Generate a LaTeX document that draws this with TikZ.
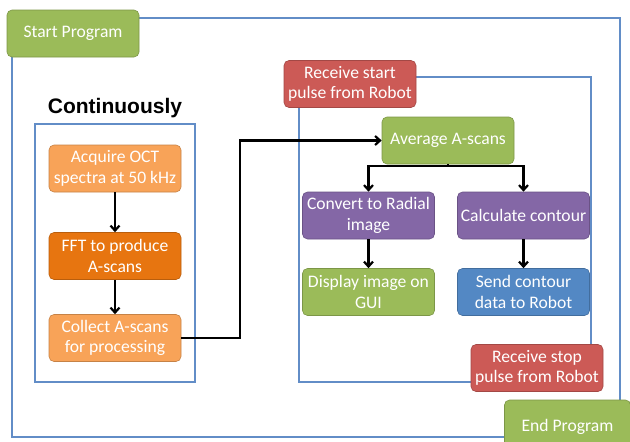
\documentclass[tikz,border=0pt]{standalone}
\usepackage{fontspec}
\setmainfont{Carlito}
\newfontfamily\headfont{Liberation Sans}
\usetikzlibrary{arrows.meta}

\definecolor{progreen}{RGB}{155,187,89}
\definecolor{pulsered}{RGB}{204,90,86}
\definecolor{lightorange}{RGB}{248,163,88}
\definecolor{darkorange}{RGB}{231,117,16}
\definecolor{stepviolet}{RGB}{132,103,166}
\definecolor{sendblue}{RGB}{83,136,196}
\definecolor{frameblue}{RGB}{98,141,199}

\begin{document}
\begin{tikzpicture}[x=1pt,y=-1pt,>={Straight Barb[length=5pt,width=9pt]},
  stagebox/.style={draw=#1!80!black, fill=#1, rounded corners=5pt, text=white,
    align=center, minimum width=132pt, minimum height=47pt, inner sep=1pt,
    line width=0.6pt, font=\fontsize{17.6}{20.5}\selectfont},
  framebox/.style={draw=frameblue, line width=1.3pt},
  flow/.style={->, line width=2.2pt}]
  \useasboundingbox (0,0) rectangle (630,442);

  % Frames
  \draw[framebox] (12,18) rectangle (620,437);
  \draw[framebox] (35,124) rectangle (195,382);
  \draw[framebox] (299,77) rectangle (591,382);

  % Nodes
  \node[stagebox=progreen] (start) at (73,33.5) {Start Program};
  \node[font=\headfont\bfseries\fontsize{21}{24}\selectfont] (cont) at (115,108) {Continuously};
  \node[stagebox=lightorange] (acquire) at (115,168.5) {Acquire OCT\\spectra at 50 kHz};
  \node[stagebox=darkorange] (fft) at (115,256) {FFT to produce\\A-scans};
  \node[stagebox=lightorange] (collect) at (115,338) {Collect A-scans\\for processing};

  \node[stagebox=pulsered] (rstart) at (350,84) {Receive start\\pulse from Robot};
  \node[stagebox=progreen] (avg) at (448,140.5) {Average A-scans};
  \node[stagebox=stepviolet] (conv) at (368.5,215.5) {Convert to Radial\\image};
  \node[stagebox=stepviolet] (calc) at (523.5,215.5) {Calculate contour};
  \node[stagebox=progreen] (disp) at (368.5,292) {Display image on\\GUI};
  \node[stagebox=sendblue] (send) at (523.5,292) {Send contour\\data to Robot};
  \node[stagebox=pulsered] (rstop) at (537,368) {Receive stop\\pulse from Robot};
  \node[stagebox=progreen, minimum width=126pt, minimum height=54pt] (endp) at (567.5,427) {End Program};

  % Arrows
  \draw[flow] (acquire) -- (fft);
  \draw[flow] (fft) -- (collect);
  \draw[flow] (collect.east) -- ++(59,0) |- (avg.west);
  \draw[flow] (avg.south) -- ++(0,2) -| (conv.north);
  \draw[flow] (avg.south) -- ++(0,2) -| (calc.north);
  \draw[flow] (conv) -- (disp);
  \draw[flow] (calc) -- (send);
\end{tikzpicture}
\end{document}
